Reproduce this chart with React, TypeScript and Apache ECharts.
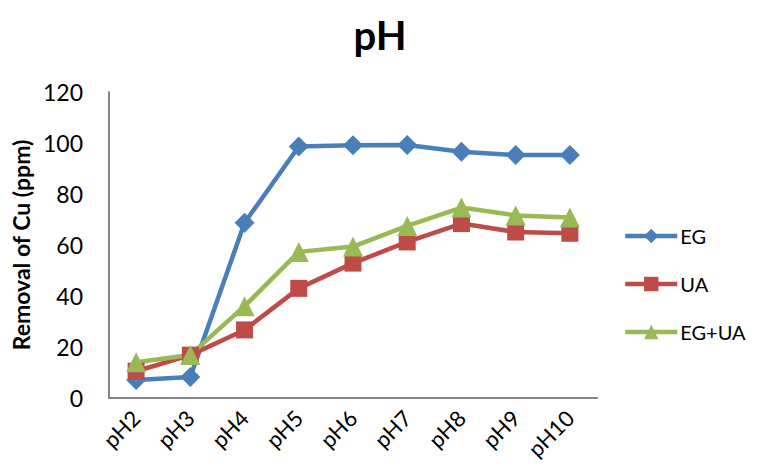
import React, { useEffect, useRef } from "react";
import * as echarts from "echarts";

const categories = ["pH2", "pH3", "pH4", "pH5", "pH6", "pH7", "pH8", "pH9", "pH10"];
const egValues = [7.1, 8.2, 68.7, 98.6, 99.1, 99.2, 96.6, 95.3, 95.3];
const uaValues = [10.5, 16.8, 26.7, 43, 52.9, 61.2, 68.4, 65.1, 64.6];
const egUaValues = [14, 16.9, 36, 57.3, 59.4, 67.5, 74.7, 71.6, 70.8];
const yTicks = { min: 0, max: 120, interval: 20 };

const FONT = "Lato, 'Open Sans', sans-serif";

export default function App() {
  const ref = useRef<HTMLDivElement>(null);
  useEffect(() => {
    if (!ref.current) return;
    const chart = echarts.init(ref.current, undefined, { renderer: "svg" });
    const mk = (name: string, data: number[], color: string, symbol: string, size: number) => ({
      name,
      type: "line",
      data,
      symbol,
      symbolSize: size,
      lineStyle: { color, width: 4.5 },
      itemStyle: { color },
    });
    chart.setOption({
      animation: false,
      backgroundColor: "#ffffff",
      title: {
        text: "pH",
        left: "center",
        top: 10,
        textStyle: { fontFamily: FONT, fontSize: 40, fontWeight: "bold", color: "#000" },
      },
      grid: { left: 109, right: 163, top: 92, bottom: 71 },
      legend: {
        orient: "vertical",
        left: 618,
        top: 221,
        itemWidth: 52,
        itemHeight: 18,
        itemGap: 28,
        lineStyle: { width: 4.5 },
        textStyle: { fontFamily: FONT, fontSize: 20, color: "#000", padding: [0, 0, 0, -2] },
        data: ["EG", "UA", "EG+UA"],
      },
      xAxis: {
        type: "category",
        data: categories,
        boundaryGap: true,
        axisLine: { lineStyle: { color: "#868686", width: 2 } },
        axisTick: { show: false },
        axisLabel: { rotate: 45, fontFamily: FONT, fontSize: 22, color: "#000", margin: 16 },
      },
      yAxis: {
        type: "value",
        min: yTicks.min,
        max: yTicks.max,
        interval: yTicks.interval,
        name: "Removal of Cu (ppm)",
        nameLocation: "middle",
        nameGap: 73,
        nameTextStyle: { fontFamily: FONT, fontSize: 23, fontWeight: "bold", color: "#000" },
        axisLine: { show: true, lineStyle: { color: "#868686", width: 2 } },
        axisTick: { show: false },
        splitLine: { show: false },
        axisLabel: { fontFamily: FONT, fontSize: 23, color: "#000", margin: 26 },
      },
      series: [
        mk("EG", egValues, "#4A7EBB", "diamond", 20),
        mk("UA", uaValues, "#BE4B48", "rect", 17),
        mk("EG+UA", egUaValues, "#98B954", "triangle", 20),
      ],
    });
    return () => chart.dispose();
  }, []);
  return <div ref={ref} style={{ width: 760, height: 469, margin: -8 }} />;
}
